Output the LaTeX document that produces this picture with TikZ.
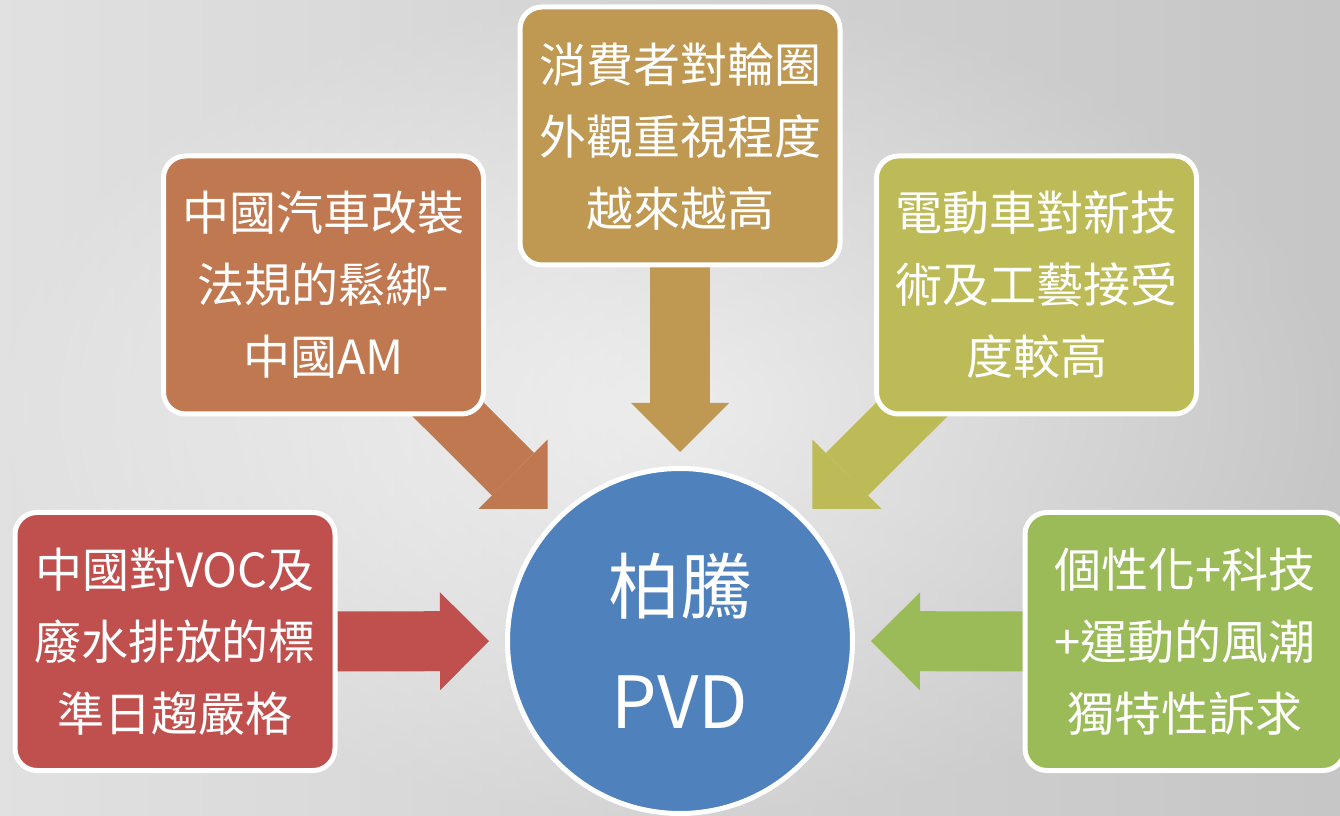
\documentclass[tikz,border=0pt]{standalone}
\usepackage{fontspec}
\newfontfamily\cjk{Noto Sans CJK TC}
\usetikzlibrary{arrows.meta}
\definecolor{boxgold}{RGB}{191,152,82}
\definecolor{boxorange}{RGB}{192,120,80}
\definecolor{boxolive}{RGB}{189,187,87}
\definecolor{boxred}{RGB}{192,80,77}
\definecolor{boxgreen}{RGB}{155,187,89}
\definecolor{hubblue}{RGB}{79,129,189}
\pgfdeclarelayer{bglayer}
\pgfdeclarelayer{arrowlayer}
\pgfsetlayers{bglayer,arrowlayer,main}

\begin{document}
\begin{tikzpicture}[x=0.5pt,y=0.5pt,
    factor/.style={draw=white, line width=2.5pt, rounded corners=11pt,
        minimum width=160pt, minimum height=129pt, inner sep=0pt,
        align=center, text=white, font=\cjk\fontsize{23.5}{36}\selectfont},
    bigarrow/.style={line width=30pt, -{Triangle[length=24.5pt,width=49pt,line width=0pt]}}]
    \useasboundingbox (0,0) rectangle (1340,815);
    \begin{pgfonlayer}{bglayer}
        \shade[inner color=gray!6, outer color=gray!36] (0,0) rectangle (1340,815);
        \shade[left color=white, right color=gray!60, opacity=0.35] (0,0) rectangle (1340,815);
    \end{pgfonlayer}
    \node[circle, draw=white, line width=2.5pt, fill=hubblue, minimum size=172.5pt,
        inner sep=0pt, align=center, text=white,
        font=\cjk\fontsize{36}{57.5}\selectfont] (hub) at (680,174) {柏騰\\PVD};
    \foreach \name/\x/\y/\col/\txt in {
            gold/680/679/boxgold/消費者對輪圈\\外觀重視程度\\越來越高,
            orange/323.5/530/boxorange/中國汽車改裝\\法規的鬆綁-\\中國AM,
            olive/1036.5/530/boxolive/電動車對新技\\術及工藝接受\\度較高,
            red/175/173.5/boxred/中國對VOC及\\廢水排放的標\\準日趨嚴格,
            green/1185/173.5/boxgreen/個性化+科技\\+運動的風潮\\獨特性訴求} {
            \node[factor, fill=\col] (\name) at (\x,\y) {\txt};
        }
    % block arrows sit behind the boxes
    \begin{pgfonlayer}{arrowlayer}
        \foreach \name/\col/\gap in {gold/boxgold/94.5pt, orange/boxorange/93.5pt,
                olive/boxolive/93.5pt, red/boxred/95.5pt, green/boxgreen/95.5pt} {
                \draw[bigarrow, color=\col, shorten >=\gap] (\name.center) -- (hub.center);
            }
    \end{pgfonlayer}
\end{tikzpicture}
\end{document}
